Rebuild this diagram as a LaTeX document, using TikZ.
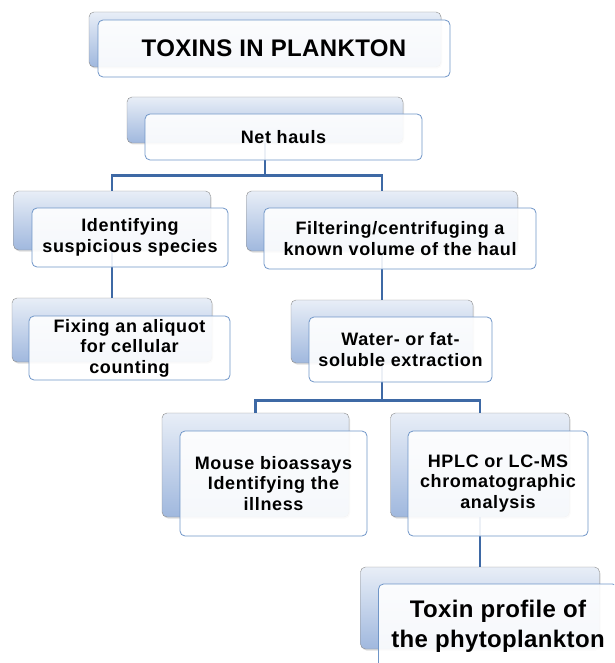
\documentclass[tikz,border=0pt]{standalone}
\usepackage{fontspec}
\newfontfamily\boxfont{Liberation Sans}[LetterSpace=3.5]
\newfontfamily\titlefont{Liberation Sans}[LetterSpace=1.5]
\usetikzlibrary{shadows}

\definecolor{linkblue}{RGB}{62,105,165}
\definecolor{frameblue}{RGB}{112,150,200}
\definecolor{backtop}{RGB}{232,238,247}
\definecolor{backbot}{RGB}{160,184,222}

\begin{document}
\begin{tikzpicture}
   [x=1pt,y=-1pt,
    backbox/.style={rectangle, rounded corners=5pt, draw=black!45, thin,
      top color=backtop, bottom color=backbot,
      drop shadow={opacity=0.25, shadow xshift=1pt, shadow yshift=-1.5pt}},
    frontbox/.style={rectangle, rounded corners=5pt, draw=frameblue, line width=0.8pt,
      fill=white, fill opacity=0.9, text opacity=1, align=center, inner sep=2pt,
      font=\boxfont\bfseries\fontsize{18}{20.5}\selectfont},
    link/.style={draw=linkblue, line width=2.6pt}]

  \useasboundingbox (0,0) rectangle (614,663);
  \clip (0,0) rectangle (614,663);

  % back boxes
  \node[backbox, minimum width=352, minimum height=55]  (btitle) at (265,39.5) {};
  \node[backbox, minimum width=276, minimum height=46]  (bnet)   at (265,120)  {};
  \node[backbox, minimum width=197, minimum height=59]  (bident) at (112,220.5) {};
  \node[backbox, minimum width=271, minimum height=60]  (bfilt)  at (382,221)  {};
  \node[backbox, minimum width=200, minimum height=64]  (bfix)   at (112,330)  {};
  \node[backbox, minimum width=182, minimum height=63]  (bwat)   at (382,331.5) {};
  \node[backbox, minimum width=187, minimum height=104] (bmouse) at (255.5,465) {};
  \node[backbox, minimum width=179, minimum height=104] (bhplc)  at (480,465)  {};
  \node[backbox, minimum width=239, minimum height=82]  (btox)   at (480,608)  {};

  \foreach \from/\to/\d in {bnet/bident/32,bnet/bfilt/32,bident/bfix/24,bfilt/bwat/24,
                            bwat/bmouse/37,bwat/bhplc/37,bhplc/btox/24}
    \draw[link] (\from.south) -- ++(0,\d) -| (\to.north);

  % front boxes
  \node[frontbox, minimum width=352, minimum height=57,
        font=\titlefont\bfseries\fontsize{24}{28}\selectfont] (title) at (274,48.5) {TOXINS IN PLANKTON};
  \node[frontbox, minimum width=277, minimum height=46]  (net)   at (283.5,137)   {Net hauls};
  \node[frontbox, minimum width=196, minimum height=59]  (ident) at (130,237.5)   {Identifying\\suspicious species};
  \node[frontbox, minimum width=272, minimum height=61]  (filt)  at (400,238.5)   {Filtering/centrifuging a\\known volume of the haul};
  \node[frontbox, minimum width=201, minimum height=64]  (fix)   at (129.5,348)   {Fixing an aliquot\\for cellular\\counting};
  \node[frontbox, minimum width=183, minimum height=65]  (wat)   at (400.5,349.5) {Water- or fat-\\soluble extraction};
  \node[frontbox, minimum width=187, minimum height=105] (mouse) at (273.5,483.5) {Mouse bioassays\\Identifying the\\illness};
  \node[frontbox, minimum width=180, minimum height=105] (hplc)  at (498,483.5)   {HPLC or LC-MS\\chromatographic\\analysis};
  \node[frontbox, minimum width=239, minimum height=84,
        font=\titlefont\bfseries\fontsize{24}{30}\selectfont] (tox) at (498,626) {Toxin profile of\\the phytoplankton};

\end{tikzpicture}
\end{document}
